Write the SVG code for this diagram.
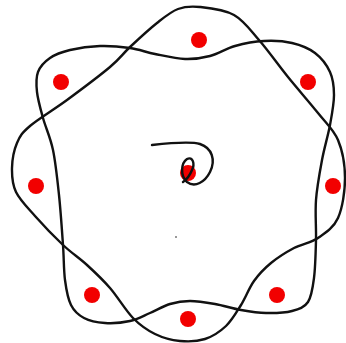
<svg xmlns="http://www.w3.org/2000/svg" width="346" height="343" viewBox="0 0 346 343">
<style>
.ln{fill:none;stroke:#111;stroke-width:2.4;stroke-linecap:round;stroke-linejoin:round}
.dot{fill:#f20000}
</style>
<rect width="346" height="343" fill="#fff"/>
<g id="connectors">
<path id="diamond-loop" class="ln" d="M200,7 C209.33,8 224.17,9.5 234,15 S250,29.67 259,40 S278.17,64.83 288,77 S309.67,102.5 318,113 S333.5,129.17 338,140 S345,165 345,178 S342.5,208 338,218 S325.33,233 318,238 S301.83,243.83 294,248 S277.67,257.5 271,263 S259,274 254,281 S245.67,297.5 241,305 S232,320.33 226,326 S212.67,336.5 205,339 S188.33,341.83 180,341 S162.83,337.83 155,334 S140.5,325.67 133,318 S117.67,296.83 110,288 S94.83,272.17 87,265 S71.67,253.17 63,245 S42.83,224.83 35,216 S19.83,200 16,192 S11.83,176.17 12,168 S14,150 17,143 S21.67,133.17 30,126 S53.67,109.83 67,100 S99.5,75.83 110,67 S122.17,54.33 130,47 S149,29.33 157,23 S170.83,11.67 178,9 S190.67,6 200,7 Z"/>
<path id="square-loop" class="ln" d="M38,72 C40.17,66.33 44.67,61.67 50,58 S61.67,52 70,50 S90,46.33 100,46 S120.83,46.67 130,48 S145.83,52.17 155,54 S175.83,58.67 185,59 S201.67,58.17 210,56 S226,48.5 235,46 S254.5,41.5 264,41 S283.5,41 292,43 S308.67,48.17 315,53 S326.83,65 330,72 S334,86.17 334,95 S332,114.17 330,125 S324.33,147.5 322,160 S317,186.67 316,200 S316.33,227 316,240 S315.33,267.67 314,278 S311.67,296.5 308,302 S299,309.17 292,311 S274.5,313.17 266,313 S249.5,311.5 241,310 S223.5,305.5 215,304 S197.5,301 190,301 S176.67,302 170,304 S156.67,310.17 150,313 S137.5,319.33 130,321 S112.67,323.5 105,323 S89.67,321 84,318 S74.17,311.33 71,305 S66.33,290 65,280 S64,259.17 63,245 S60.67,210.83 59,195 S55.67,162.83 53,150 S45.67,127.67 43,118 S37.83,99.67 37,92 S35.83,77.67 38,72 Z"/>
</g>
<g id="dot-top"><circle class="dot" cx="199" cy="40" r="8"/></g>
<g id="dot-top-right"><circle class="dot" cx="308" cy="82" r="8"/></g>
<g id="dot-right"><circle class="dot" cx="333" cy="186" r="8"/></g>
<g id="dot-bottom-right"><circle class="dot" cx="277" cy="295" r="8"/></g>
<g id="dot-bottom"><circle class="dot" cx="188" cy="319" r="8"/></g>
<g id="dot-bottom-left"><circle class="dot" cx="92" cy="295" r="8"/></g>
<g id="dot-left"><circle class="dot" cx="36" cy="186" r="8"/></g>
<g id="dot-top-left"><circle class="dot" cx="61" cy="82" r="8"/></g>
<g id="center">
<circle class="dot" cx="188" cy="173" r="8"/>
<path class="ln" d="M152,145 C170,143 190,141 200,144 C212,148 216,160 210,172 C205,182 195,188 187,182 C180,176 181,163 187,159 C193,156 195,164 192,170 C190,175 186,180 183,182"/>
</g>
<g id="mark"><circle cx="176" cy="237" r="1" fill="#777"/></g>
</svg>
